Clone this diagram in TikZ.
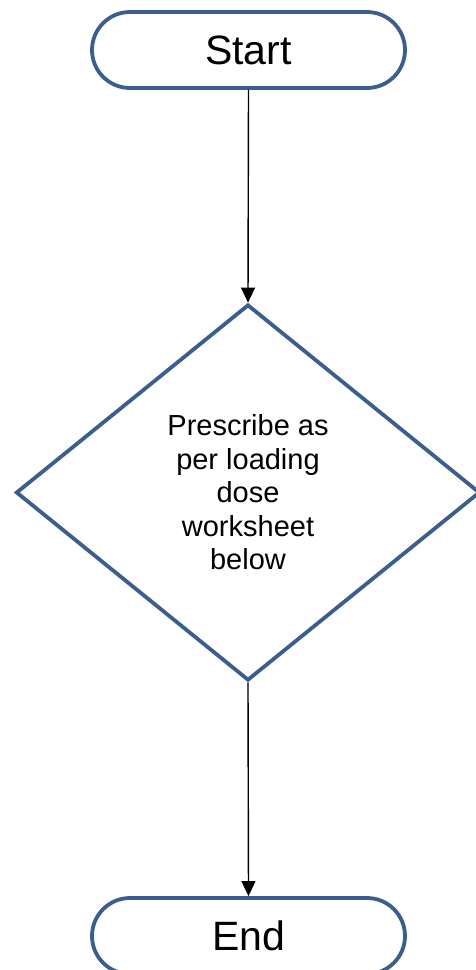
\documentclass[tikz,border=0pt]{standalone}
\usepackage{fontspec}
\setmainfont{Liberation Sans}
\usetikzlibrary{shapes.geometric,arrows.meta}
\definecolor{shapeblue}{RGB}{59,94,142}
\begin{document}
\begin{tikzpicture}[x=1pt,y=-1pt,
  terminal/.style={draw=shapeblue,line width=3.8pt,rectangle,rounded corners=38pt,
    minimum width=313pt,minimum height=76pt,inner sep=0pt,fill=white,
    font=\fontsize{41}{46}\selectfont},
  decision/.style={draw=shapeblue,line width=3.8pt,diamond,
    minimum width=464pt,minimum height=376pt,inner sep=0pt,align=center,fill=white,
    font=\fontsize{29}{33.5}\selectfont},
  flow/.style={draw=black,line width=1.4pt,-{Triangle[width=14pt,length=15pt]}}]
\useasboundingbox (0,0) rectangle (475,970);
\node[terminal] (start) at (248.5,50) {Start};
\node[decision] (dec) at (248,492.5) {Prescribe as\\per loading\\dose\\worksheet\\below};
\node[terminal] (end) at (248.5,936) {End};
\draw[flow] (start.south) -- (dec.north);
\draw[flow] (dec.south) -- (end.north);
\end{tikzpicture}
\end{document}
